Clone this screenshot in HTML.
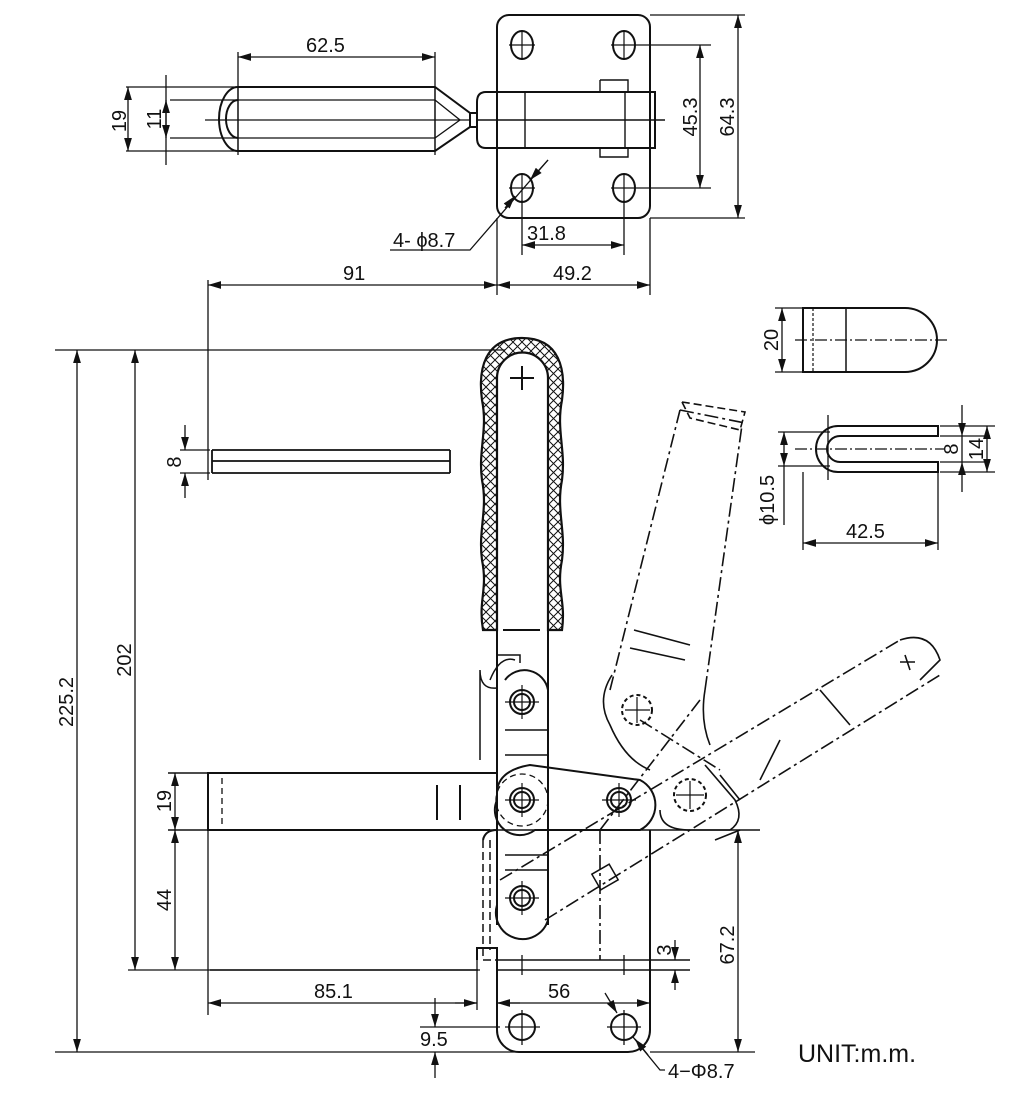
<!DOCTYPE html>
<html><head><meta charset="utf-8"><style>
html,body{margin:0;padding:0;background:#fff}
svg{display:block}
text{font-family:"Liberation Sans",sans-serif;font-size:20px;fill:#111}
</style></head><body>
<svg width="1021" height="1107" viewBox="0 0 1021 1107" xmlns="http://www.w3.org/2000/svg">
<defs>
<marker id="a" viewBox="0 0 10 6" refX="10" refY="3" markerWidth="11" markerHeight="6" orient="auto-start-reverse"><path d="M0,0L10,3L0,6z" fill="#111"/></marker>
<pattern id="x" width="9" height="9" patternUnits="userSpaceOnUse"><path d="M0,0L9,9M9,0L0,9" stroke="#111" stroke-width="1"/></pattern>
</defs>
<g fill="none" stroke="#111" stroke-width="2">
<!-- TOP VIEW -->
<rect x="497" y="15" width="153" height="203" rx="12"/>
<ellipse cx="522" cy="45" rx="11" ry="14"/><ellipse cx="624" cy="45" rx="11" ry="14"/>
<ellipse cx="522" cy="188" rx="11" ry="14"/><ellipse cx="624" cy="188" rx="11" ry="14"/>
<path d="M509,45h26M522,30v30M611,45h100M624,30v30M509,188h26M522,173v30M611,188h100M624,173v30" stroke-width="1.2"/>
<path d="M238,87H435L470,113V127L435,151H238"/>
<path d="M238,87A19,32 0 0 0 238,151"/>
<path d="M238,100A12,19 0 0 0 238,138"/>
<path d="M170,100H435L460,120L435,138H170M238,87V151M435,87V151" stroke-width="1.3"/>
<path d="M205,120H470" stroke-width="1.2"/>
<path d="M126,87H238M126,151H238" stroke-width="1.3"/>
<path d="M486,92H655V148H486Q477,148 477,138V102Q477,92 486,92z"/>
<path d="M470,113H477M470,127H477"/>
<path d="M600,80H628V92M600,80V92M600,148V157H628V148M525,92V148M625,92V148M477,120H665" stroke-width="1.4"/>
<line x1="128" y1="87" x2="128" y2="151" marker-start="url(#a)" marker-end="url(#a)" stroke-width="1.3"/>
<line x1="166" y1="75" x2="166" y2="165" stroke-width="1.3"/>
<line x1="166" y1="100" x2="166" y2="138" marker-start="url(#a)" marker-end="url(#a)" stroke-width="1.3"/>
<path d="M238,52V155M435,52V155" stroke-width="1.3"/>
<line x1="238" y1="57" x2="435" y2="57" marker-start="url(#a)" marker-end="url(#a)" stroke-width="1.3"/>
<path d="M650,15H745M650,218H745" stroke-width="1.3"/>
<line x1="738" y1="15" x2="738" y2="218" marker-start="url(#a)" marker-end="url(#a)" stroke-width="1.3"/>
<line x1="700" y1="45" x2="700" y2="188" marker-start="url(#a)" marker-end="url(#a)" stroke-width="1.3"/>
<path d="M522,200V255M624,200V255M497,218V295M650,218V295M208,280V480" stroke-width="1.3"/>
<line x1="522" y1="245" x2="624" y2="245" marker-start="url(#a)" marker-end="url(#a)" stroke-width="1.3"/>
<line x1="497" y1="285" x2="650" y2="285" marker-start="url(#a)" marker-end="url(#a)" stroke-width="1.3"/>
<line x1="208" y1="285" x2="497" y2="285" marker-start="url(#a)" marker-end="url(#a)" stroke-width="1.3"/>
<path d="M548,160L470,250H390" stroke-width="1.3"/>
<line x1="548" y1="160" x2="530" y2="180" marker-end="url(#a)" stroke-width="1.3"/>
<line x1="505" y1="208" x2="515" y2="196" marker-end="url(#a)" stroke-width="1.3"/>

<!-- 8 strip -->
<path d="M212,450H450M212,473H450M212,450V473M450,450V473M212,461H450" stroke-width="1.8"/>
<path d="M180,450H210M180,473H210" stroke-width="1.3"/>
<line x1="185" y1="425" x2="185" y2="450" marker-end="url(#a)" stroke-width="1.3"/>
<line x1="185" y1="498" x2="185" y2="473" marker-end="url(#a)" stroke-width="1.3"/>

<!-- big verticals -->
<path d="M55,350H505M55,1052H520M128,970H480" stroke-width="1.3"/>
<line x1="77" y1="350" x2="77" y2="1052" marker-start="url(#a)" marker-end="url(#a)" stroke-width="1.3"/>
<line x1="135" y1="350" x2="135" y2="970" marker-start="url(#a)" marker-end="url(#a)" stroke-width="1.3"/>
<path d="M168,773H210M168,830H760" stroke-width="1.5"/>
<line x1="175" y1="773" x2="175" y2="830" marker-start="url(#a)" marker-end="url(#a)" stroke-width="1.3"/>
<line x1="175" y1="830" x2="175" y2="970" marker-start="url(#a)" marker-end="url(#a)" stroke-width="1.3"/>

<!-- clamp bar -->
<path d="M497,773H208V830H490"/>
<path d="M222,778V826" stroke-dasharray="6,4" stroke-width="1.3"/>
<path d="M437,785V820M460,785V820"/>

<!-- handle grip -->
<path d="M497,630V378A25,25 0 0 1 548,378V630H562C566,600 556,590 562,560C566,530 556,510 562,480C566,450 556,430 562,400C566,370 560,338 522,338C484,338 478,370 482,400C488,430 478,450 482,480C488,510 478,530 482,560C488,590 478,600 483,630z" fill="url(#x)" stroke-width="2.2"/>
<path d="M510,378H534M522,366V390"/>
<path d="M497,630V925M548,630V925M503,630H540" stroke-width="2"/>

<!-- links -->
<path d="M505,680A24,24 0 0 1 548,690V920A24,24 0 1 1 497,905"/>
<path d="M497,790Q500,770 530,765L640,780A28,28 0 0 1 640,830L535,830A25,25 0 0 1 497,800"/>
<circle cx="522" cy="702" r="12"/><circle cx="522" cy="702" r="8"/>
<circle cx="522" cy="800" r="12"/><circle cx="522" cy="800" r="8"/>
<circle cx="522" cy="898" r="12"/><circle cx="522" cy="898" r="8"/>
<circle cx="619" cy="800" r="12"/><circle cx="619" cy="800" r="8"/>
<circle cx="522" cy="800" r="26" stroke-dasharray="6,4" stroke-width="1.3"/>
<path d="M505,702H539M522,685V719M505,800H539M522,783V817M505,898H539M522,881V915M602,800H636M619,783V817" stroke-width="1.2"/>
<path d="M497,688Q480,690 480,670V760M497,655H520V663M490,680Q500,655 515,660M505,730H548M505,755H548M505,855H548M505,870H548" stroke-width="1.5"/>
<path d="M483,840V960H497M490,840V950" stroke-dasharray="8,4" stroke-width="1.5"/>
<path d="M483,840Q485,830 497,830"/>

<!-- dashed alternate positions -->
<g stroke-dasharray="14,4,3,4" stroke-width="1.6">
<path d="M610,690L680,410M705,690L742,425"/>
<path d="M680,410L745,423"/>
<path d="M500,880L900,640M545,920L940,675"/>
<path d="M640,720L720,770M600,830L700,700"/>
<path d="M600,830V960"/>
</g>
<path d="M682,402L690,418L740,430L745,412L682,402" stroke-dasharray="8,4" stroke-width="1.6"/>
<path d="M634,630L690,645M630,648L685,660M900,640Q930,630 940,660L920,680" stroke-width="1.6"/>
<path d="M612,675Q596,700 610,725Q625,760 650,770M705,690Q700,720 710,745" stroke-width="1.6"/>
<circle cx="637" cy="710" r="15" stroke-dasharray="4,3"/>
<circle cx="690" cy="795" r="16" stroke-dasharray="4,3"/>
<path d="M625,710H650M637,697V723M676,795H704M690,781V809" stroke-width="1.2"/>
<path d="M660,810Q660,830 690,830H730Q745,820 735,800L705,765M720,775L740,800M715,840L740,830" stroke-width="1.6"/>
<path d="M760,780L780,740M820,690L850,725M905,655L910,670M900,662L915,662" stroke-width="1.6"/>
<rect x="595" y="868" width="20" height="18" transform="rotate(-30 605 877)" stroke-width="1.5"/>

<!-- base plate -->
<path d="M477,960V948H497V1030A22,22 0 0 0 519,1052H628A22,22 0 0 0 650,1030V830"/>
<path d="M497,960H690M497,970H690M210,970H478" stroke-width="1.5"/>
<path d="M522,955V975M624,955V975" stroke-width="1.3"/>
<circle cx="522" cy="1027" r="13"/><circle cx="624" cy="1027" r="13"/>
<path d="M505,1027H540M522,1010V1045M607,1027H641M624,1010V1045" stroke-width="1.3"/>
<path d="M208,830V1015M477,948V1010" stroke-width="1.3"/>
<line x1="208" y1="1003" x2="477" y2="1003" marker-start="url(#a)" stroke-width="1.3"/>
<line x1="455" y1="1003" x2="477" y2="1003" marker-end="url(#a)" stroke-width="1.3"/>
<line x1="497" y1="1003" x2="650" y2="1003" marker-end="url(#a)" stroke-width="1.3"/>
<line x1="520" y1="1003" x2="497" y2="1003" marker-end="url(#a)" stroke-width="1.3"/>
<path d="M420,1027H500" stroke-width="1.3"/>
<line x1="435" y1="998" x2="435" y2="1027" marker-end="url(#a)" stroke-width="1.3"/>
<line x1="435" y1="1078" x2="435" y2="1052" marker-end="url(#a)" stroke-width="1.3"/>
<line x1="675" y1="940" x2="675" y2="960" marker-end="url(#a)" stroke-width="1.3"/>
<line x1="675" y1="990" x2="675" y2="970" marker-end="url(#a)" stroke-width="1.3"/>
<path d="M650,1052H755" stroke-width="1.3"/>
<line x1="738" y1="830" x2="738" y2="1052" marker-start="url(#a)" marker-end="url(#a)" stroke-width="1.3"/>
<line x1="605" y1="993" x2="617" y2="1013" marker-end="url(#a)" stroke-width="1.3"/>
<path d="M633,1037L660,1070H665" stroke-width="1.3"/>
<line x1="648" y1="1055" x2="635" y2="1039" marker-end="url(#a)" stroke-width="1.3"/>

<!-- right detail 1 -->
<path d="M803,308H905A32,32 0 0 1 905,372H803z"/>
<path d="M813,308V372" stroke-dasharray="3,2" stroke-width="1.2"/>
<path d="M846,308V372" stroke-width="1.5"/>
<path d="M795,340H948" stroke-dasharray="12,3,2,3" stroke-width="1.2"/>
<path d="M775,308H803M775,372H803" stroke-width="1.3"/>
<line x1="782" y1="308" x2="782" y2="372" marker-start="url(#a)" marker-end="url(#a)" stroke-width="1.3"/>

<!-- right detail 2 -->
<path d="M838,426H938V436H840M840,462H938V472H838"/>
<path d="M838,426A22,23 0 1 0 838,472"/>
<path d="M840,436A13,13 0 1 0 840,462"/>
<path d="M795,449H945" stroke-dasharray="12,3,2,3" stroke-width="1.2"/>
<path d="M828,415V480" stroke-width="1.3"/>
<path d="M778,432H830M778,466H830M940,426H995M940,436H990M940,462H990M940,472H995" stroke-width="1.3"/>
<line x1="784" y1="432" x2="784" y2="466" marker-start="url(#a)" marker-end="url(#a)" stroke-width="1.3"/>
<path d="M784,466V525" stroke-width="1.3"/>
<line x1="962" y1="405" x2="962" y2="436" marker-end="url(#a)" stroke-width="1.3"/>
<line x1="962" y1="492" x2="962" y2="462" marker-end="url(#a)" stroke-width="1.3"/>
<path d="M962,436V462" stroke-width="1.3"/>
<line x1="987" y1="426" x2="987" y2="472" marker-start="url(#a)" marker-end="url(#a)" stroke-width="1.3"/>
<path d="M803,472V550M938,472V550" stroke-width="1.3"/>
<line x1="803" y1="543" x2="938" y2="543" marker-start="url(#a)" marker-end="url(#a)" stroke-width="1.3"/>
</g>

<!-- TEXT -->
<text x="306" y="52">62.5</text>
<text x="527" y="240">31.8</text>
<text x="553" y="280">49.2</text>
<text x="343" y="280">91</text>
<text x="393" y="247">4- ϕ8.7</text>
<text transform="translate(126,121) rotate(-90)" text-anchor="middle">19</text>
<text transform="translate(161,119) rotate(-90)" text-anchor="middle">11</text>
<text transform="translate(697,117) rotate(-90)" text-anchor="middle">45.3</text>
<text transform="translate(734,117) rotate(-90)" text-anchor="middle">64.3</text>
<text transform="translate(181,462) rotate(-90)" text-anchor="middle">8</text>
<text transform="translate(73,702) rotate(-90)" text-anchor="middle">225.2</text>
<text transform="translate(131,660) rotate(-90)" text-anchor="middle">202</text>
<text transform="translate(171,801) rotate(-90)" text-anchor="middle">19</text>
<text transform="translate(171,900) rotate(-90)" text-anchor="middle">44</text>
<text x="314" y="998">85.1</text>
<text x="548" y="998">56</text>
<text x="420" y="1046">9.5</text>
<text x="668" y="1078">4−Φ8.7</text>
<text transform="translate(671,950) rotate(-90)" text-anchor="middle">3</text>
<text transform="translate(734,945) rotate(-90)" text-anchor="middle">67.2</text>
<text x="798" y="1062" style="font-size:25px">UNIT:m.m.</text>
<text transform="translate(778,340) rotate(-90)" text-anchor="middle">20</text>
<text transform="translate(774,500) rotate(-90)" text-anchor="middle">ϕ10.5</text>
<text transform="translate(958,449) rotate(-90)" text-anchor="middle">8</text>
<text transform="translate(983,449) rotate(-90)" text-anchor="middle">14</text>
<text x="846" y="538">42.5</text>
</svg>
</body></html>
